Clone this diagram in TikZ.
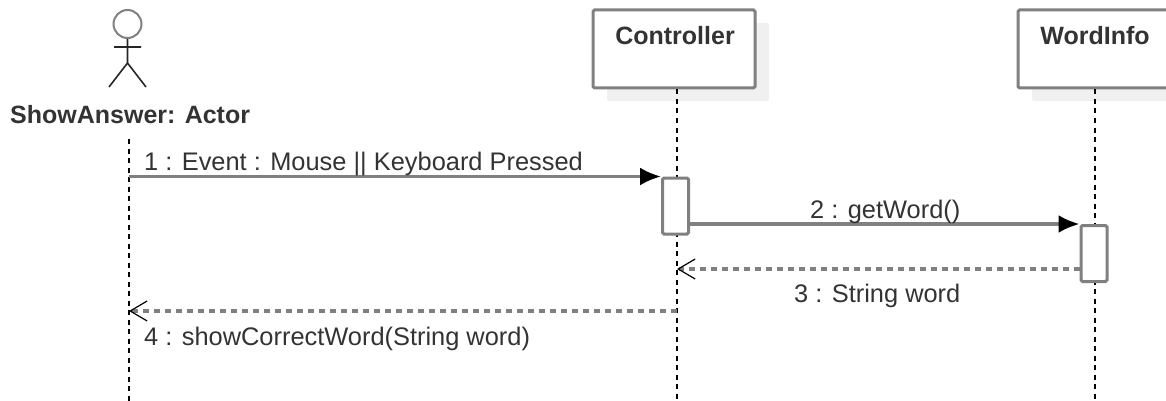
\documentclass[tikz,border=0pt]{standalone}
\usepackage{fontspec}
\setmainfont{Liberation Sans}
\usetikzlibrary{arrows.meta, shadows}
\definecolor{msggray}{gray}{0.5}
\definecolor{txtgray}{gray}{0.2}

\begin{document}
\begin{tikzpicture}[x=1pt,y=-1pt,
 item/.style={rectangle,draw=msggray,line width=3pt,fill=white,rounded corners=1.5pt,inner sep=0pt},
 lifebox/.style={item,minimum height=78pt,drop shadow={shadow xshift=14pt,shadow yshift=-13pt,fill=black!6,opacity=1}},
 actbox/.style={item,minimum width=26pt,minimum height=56pt},
 lifeline/.style={black,line width=1.7pt,dash pattern=on 5pt off 4.5pt},
 msg/.style={msggray,line width=3.2pt,-{Latex[black,length=21pt,width=18pt]}},
 reply/.style={msggray,line width=3.2pt,dash pattern=on 6pt off 5pt,-{Straight Barb[black,line width=1.2pt,length=17pt,width=20pt]}},
 txt/.style={text=txtgray,font=\fontsize{25.4}{28}\selectfont,inner sep=0pt,anchor=base west},
 title/.style={text=txtgray,font=\fontsize{25}{28}\selectfont\bfseries,inner sep=0pt,anchor=base}]
 \useasboundingbox (0,0) rectangle (1166,401);
 \clip (0,0) rectangle (1166,401);

 % lifeline boxes
 \node[lifebox,minimum width=162pt] (ctrl) at (674,49) {};
 \node[title] (ctrlname) at (675,45) {Controller};
 \node[lifebox,minimum width=154pt] (word) at (1095,49) {};
 \node[title] (wordname) at (1095,45) {WordInfo};

 % actor
 \node[circle,draw=msggray,line width=2pt,fill=white,minimum size=28pt,inner sep=0pt] (head) at (127.5,24) {};
 \coordinate (hip) at (127.5,63);
 \coordinate (armL) at (114,47);
 \coordinate (armR) at (141,47);
 \coordinate (legL) at (109,87);
 \coordinate (legR) at (146,87);
 \draw[line width=1.6pt,black!85] (head.south) -- (hip) (armL) -- (armR) (legL) -- (hip) -- (legR);
 \node[title,anchor=base west] (actor) at (10,124) {ShowAnswer: Actor};

 % lifelines
 \coordinate (actortop) at (129,139);
 \coordinate (actorend) at (129,401);
 \draw[lifeline] (actortop) -- (actorend);
 \draw[lifeline] (ctrl.south -| 677,0) -- (677,401);
 \draw[lifeline] (word.south) -- (1095,401);

 % activations
 \node[actbox] (ctrlact) at (675.5,206) {};
 \node[actbox] (wordact) at (1094,253.5) {};

 % messages
 \coordinate (m1) at (actortop |- ctrlact.north);
 \coordinate (m3) at (677,269);
 \coordinate (m4) at (actortop |- 0,311);
 \draw[msg] (m1) -- (ctrlact.north west);
 \draw[msg] (ctrlact.east |- wordact.north) -- (wordact.north west);
 \draw[reply] (wordact.west |- m3) -- (m3);
 \draw[reply] (m3 |- m4) -- (m4);

 \node[txt] (msgone) at (144,170) {1 : Event : Mouse || Keyboard Pressed};
 \node[txt] (msgtwo) at (810,218) {2 : getWord()};
 \node[txt] (msgthree) at (794,302) {3 : String word};
 \node[txt] (msgfour) at (144,345) {4 : showCorrectWord(String word)};
\end{tikzpicture}
\end{document}
